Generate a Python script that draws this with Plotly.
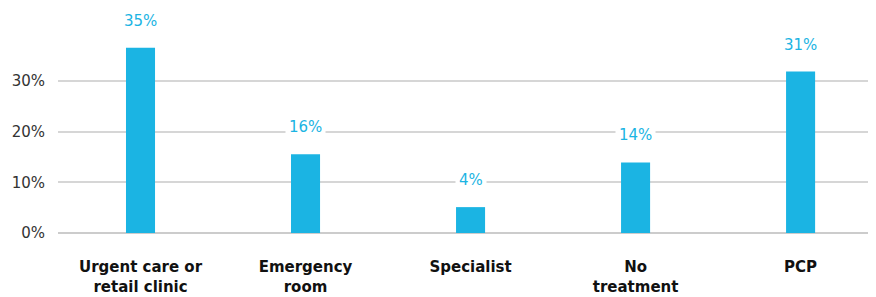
import plotly.graph_objects as go

categories = ["Urgent care or<br>retail clinic", "Emergency<br>room", "Specialist", "No<br>treatment", "PCP"]
bar_values = [36.5, 15.5, 5.1, 13.9, 31.8]
label_texts = ["35%", "16%", "4%", "14%", "31%"]
y_tickvals = [0, 10, 20, 30]
y_ticktext = ["0%", "10%", "20%", "30%"]

BLUE = "#1BB4E3"
FONT = "DejaVu Sans"

fig = go.Figure()
fig.add_trace(go.Bar(
    x=categories, y=bar_values,
    marker=dict(color=BLUE, line=dict(width=0)),
    width=0.176,
    hoverinfo="skip",
))

for c, v, t in zip(categories, bar_values, label_texts):
    fig.add_annotation(
        x=c, y=v, text=t, showarrow=False,
        yanchor="middle", yshift=27,
        font=dict(family=FONT, size=15, color=BLUE),
        bgcolor="white", borderpad=3,
    )

fig.update_layout(
    width=868, height=289,
    margin=dict(l=50, r=0, t=22, b=64),
    paper_bgcolor="white", plot_bgcolor="white",
    showlegend=False,
    font=dict(family=FONT),
    xaxis=dict(
        range=[-0.5, 4.457],
        showgrid=False, zeroline=False, showline=False,
        tickfont=dict(family=FONT, size=15, color="#111111", weight="bold"),
        ticks="", ticklabelstandoff=23,
        automargin=False,
        fixedrange=True,
    ),
    yaxis=dict(
        range=[0, 40],
        tickvals=y_tickvals, ticktext=y_ticktext,
        showgrid=True, gridcolor="#d6d6d6", gridwidth=1.5,
        zeroline=True, zerolinecolor="#cccccc", zerolinewidth=1.5,
        showline=False, ticks="",
        tickfont=dict(family=FONT, size=15, color="#333333"),
        ticklabelstandoff=12,
        automargin=False,
        fixedrange=True,
    ),
)

fig.write_html("out.html")
